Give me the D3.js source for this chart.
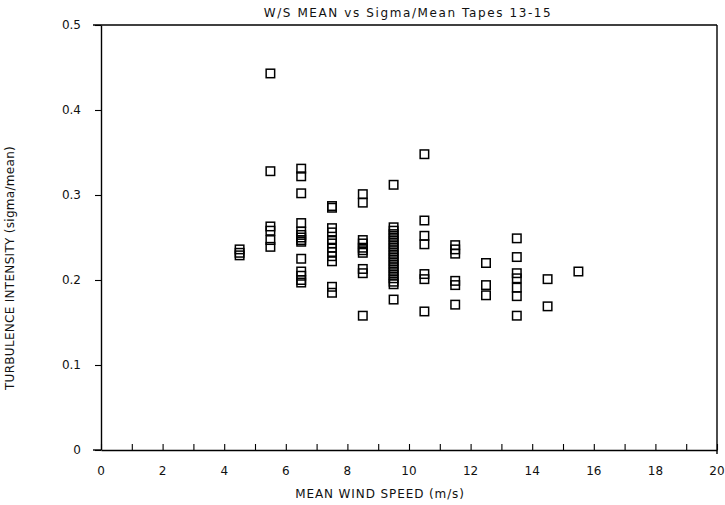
<!DOCTYPE html>
<html>
<head>
<meta charset="utf-8">
<script src="https://cdn.jsdelivr.net/npm/d3@7"></script>
<style>
  body { margin: 0; background: #fff; }
  text { font-family: "DejaVu Sans", sans-serif; fill: #111; }
</style>
</head>
<body>
<div id="chart"></div>
<script>
// bin centres of mean wind speed (m/s)
const windSpeeds = [4.5, 5.5, 6.5, 7.5, 8.5, 9.5, 10.5, 11.5, 12.5, 13.5, 14.5, 15.5];

// sigma/mean read per bin
const intensity45 = [0.236, 0.232, 0.229];
const intensity55 = [0.443, 0.328, 0.263, 0.258, 0.247, 0.239];
const intensity65 = [0.331, 0.322, 0.302, 0.267, 0.257, 0.253, 0.250, 0.247, 0.245, 0.225, 0.210, 0.205, 0.200, 0.197];
const intensity75 = [0.287, 0.285, 0.261, 0.256, 0.247, 0.243, 0.238, 0.233, 0.228, 0.222, 0.192, 0.185];
const intensity85 = [0.301, 0.291, 0.247, 0.243, 0.238, 0.235, 0.232, 0.213, 0.208, 0.158];
const intensity95 = [0.312, 0.262, 0.258, 0.254, 0.250, 0.246, 0.242, 0.238, 0.234, 0.230, 0.226, 0.222, 0.218, 0.214, 0.210, 0.206, 0.202, 0.198, 0.195, 0.177];
const intensity105 = [0.348, 0.270, 0.252, 0.242, 0.207, 0.201, 0.163];
const intensity115 = [0.241, 0.236, 0.231, 0.199, 0.194, 0.171];
const intensity125 = [0.220, 0.194, 0.182];
const intensity135 = [0.249, 0.227, 0.208, 0.202, 0.191, 0.181, 0.158];
const intensity145 = [0.201, 0.169];
const intensity155 = [0.210];

const intensities = [intensity45, intensity55, intensity65, intensity75, intensity85, intensity95,
    intensity105, intensity115, intensity125, intensity135, intensity145, intensity155];

const xTickLabels = [0, 2, 4, 6, 8, 10, 12, 14, 16, 18, 20];
const yTickLabels = [0, 0.1, 0.2, 0.3, 0.4, 0.5];

const width = 725, height = 505;
const margin = {top: 25, right: 8, bottom: 55, left: 101};

const svg = d3.select("#chart")
    .append("svg")
    .attr("width", width)
    .attr("height", height)
    .attr("viewBox", `0 0 ${width} ${height}`);

const x = d3.scaleLinear().domain([0, 20]).range([margin.left, width - margin.right]);
const y = d3.scaleLinear().domain([0, 0.5]).range([height - margin.bottom, margin.top]);

// flatten into points
const points = windSpeeds.flatMap((s, i) => intensities[i].map(v => ({speed: s, value: v})));

// frame: top and right lines
svg.append("line")
    .attr("x1", x(0) - 8).attr("x2", x(20))
    .attr("y1", y(0.5)).attr("y2", y(0.5))
    .attr("stroke", "#000").attr("stroke-width", 1.4);
svg.append("line")
    .attr("x1", x(20)).attr("x2", x(20))
    .attr("y1", y(0.5)).attr("y2", y(0) + 4)
    .attr("stroke", "#000").attr("stroke-width", 1.4);

// x axis, ticks pointing up into the plot
const xAxis = svg.append("g")
    .attr("transform", `translate(0,${y(0)})`)
    .call(d3.axisTop(x).tickValues(d3.range(0, 21, 1)).tickSize(6).tickFormat("").tickSizeOuter(0));
xAxis.select(".domain").attr("stroke-width", 1.4);
xAxis.selectAll(".tick line").attr("stroke-width", 1.1);

svg.append("line")
    .attr("x1", x(0) - 8).attr("x2", x(0))
    .attr("y1", y(0)).attr("y2", y(0))
    .attr("stroke", "#000").attr("stroke-width", 1.4);

svg.append("g")
    .selectAll("text")
    .data(xTickLabels)
    .join("text")
    .attr("x", d => x(d))
    .attr("y", y(0) + 25)
    .attr("text-anchor", "middle")
    .attr("font-size", 12)
    .text(d => d);

// y axis
const yAxis = svg.append("g")
    .attr("transform", `translate(${x(0)},0)`)
    .call(d3.axisLeft(y).tickValues(yTickLabels).tickSize(6).tickSizeOuter(0)
        .tickFormat(d => d === 0 ? "0" : d3.format(".1f")(d)));
yAxis.select(".domain").attr("stroke-width", 1.4);
yAxis.selectAll(".tick line").attr("stroke-width", 1.1);
yAxis.selectAll(".tick text")
    .attr("font-size", 12)
    .attr("font-family", "DejaVu Sans, sans-serif")
    .attr("fill", "#111")
    .attr("x", -20);

// markers
svg.append("g")
    .selectAll("rect")
    .data(points)
    .join("rect")
    .attr("x", d => x(d.speed) - 4.25)
    .attr("y", d => y(d.value) - 4.25)
    .attr("width", 8.5)
    .attr("height", 8.5)
    .attr("fill", "none")
    .attr("stroke", "#000")
    .attr("stroke-width", 1.5);

// titles
svg.append("text")
    .attr("x", 408)
    .attr("y", 17)
    .attr("text-anchor", "middle")
    .attr("font-size", 12)
    .attr("letter-spacing", 1.6)
    .text("W/S MEAN vs Sigma/Mean Tapes 13-15");

svg.append("text")
    .attr("x", 380)
    .attr("y", 498)
    .attr("text-anchor", "middle")
    .attr("font-size", 12)
    .attr("letter-spacing", 0.9)
    .text("MEAN WIND SPEED (m/s)");

svg.append("text")
    .attr("transform", `translate(14,268) rotate(-90)`)
    .attr("text-anchor", "middle")
    .attr("font-size", 12)
    .attr("letter-spacing", 0.3)
    .text("TURBULENCE INTENSITY (sigma/mean)");
</script>
</body>
</html>
